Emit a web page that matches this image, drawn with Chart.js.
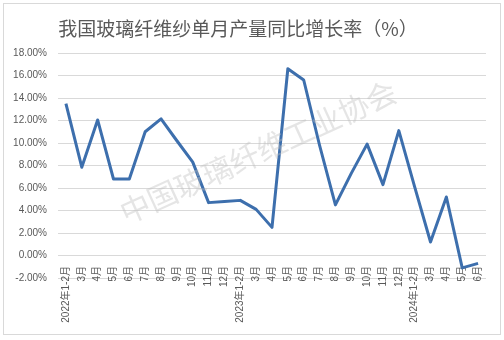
<!DOCTYPE html>
<html>
<head>
    <meta charset="utf-8" />
    <title>我国玻璃纤维纱单月产量同比增长率</title>
    <script src="https://cdn.jsdelivr.net/npm/chart.js@4.4.1/dist/chart.umd.min.js"></script>
    <style>
        html, body { margin: 0; padding: 0; background: #fff; }
        #wrap { width: 504px; height: 340px; }
    </style>
</head>
<body>
    <div id="wrap"><canvas id="grafico"></canvas></div>
    <script>
        // dados
        const titulo = '我国玻璃纤维纱单月产量同比增长率（%）';
        const marcaDagua = '中国玻璃纤维工业协会';
        const meses = [
            '2022年1-2月', '3月', '4月', '5月', '6月', '7月', '8月', '9月', '10月', '11月', '12月',
            '2023年1-2月', '3月', '4月', '5月', '6月', '7月', '8月', '9月', '10月', '11月', '12月',
            '2024年1-2月', '3月', '4月', '5月', '6月'
        ];
        const crescimento = [
            13.5, 7.85, 12.05, 6.8, 6.8, 11.0, 12.15, 10.2, 8.3, 4.7, 4.8,
            4.9, 4.1, 2.5, 16.6, 15.6, 9.8, 4.5, 7.3, 9.9, 6.3, 11.1,
            6.1, 1.2, 5.2, -1.1, -0.7
        ];
        const eixoMin = -2;
        const eixoMax = 18;
        const passo = 2;

        const fonteCJK = '"Liberation Sans", "Noto Sans CJK SC", sans-serif';

        // moldura, título e marca d'água
        const extras = {
            id: 'extras',
            beforeDraw(chart) {
                const ctx = chart.ctx;
                ctx.save();
                ctx.strokeStyle = '#d9d9d9';
                ctx.lineWidth = 1;
                ctx.strokeRect(3.5, 3.5, 497, 331);
                ctx.fillStyle = '#595959';
                ctx.font = '19px "Noto Sans CJK SC"';
                ctx.textAlign = 'center';
                ctx.textBaseline = 'middle';
                ctx.fillText(titulo, 238, 29);
                ctx.restore();
            },
            afterDatasetsDraw(chart) {
                const ctx = chart.ctx;
                ctx.save();
                ctx.translate(258, 152);
                ctx.rotate(-24.5 * Math.PI / 180);
                ctx.font = '30px "Noto Sans CJK SC"';
                ctx.textAlign = 'center';
                ctx.textBaseline = 'middle';
                ctx.fillStyle = 'rgba(190,190,190,0.4)';
                ctx.fillText(marcaDagua, 0, 0);
                ctx.restore();
            }
        };

        new Chart(document.getElementById('grafico'), {
            type: 'line',
            data: {
                labels: meses,
                datasets: [{
                    data: crescimento,
                    borderColor: '#3d6fad',
                    borderWidth: 3,
                    pointRadius: 0,
                    tension: 0,
                    borderJoinStyle: 'round',
                    fill: false
                }]
            },
            options: {
                responsive: true,
                maintainAspectRatio: false,
                animation: false,
                layout: { padding: { top: 53, right: 18, left: 0, bottom: 0 } },
                plugins: {
                    legend: { display: false },
                    tooltip: { enabled: false }
                },
                scales: {
                    x: {
                        offset: true,
                        grid: { display: false, drawTicks: false },
                        border: { display: false },
                        ticks: {
                            autoSkip: false,
                            maxRotation: 90,
                            minRotation: 90,
                            padding: -12,
                            color: '#595959',
                            font: { family: fonteCJK, size: 10 }
                        },
                        afterFit(axis) { axis.height = 62; },
                        // os rótulos sobem um pouco acima do eixo, sem recorte
                        afterUpdate(axis) { axis._computeLabelArea = () => undefined; }
                    },
                    y: {
                        min: eixoMin,
                        max: eixoMax,
                        grid: { color: '#d9d9d9', drawTicks: false },
                        border: { display: false },
                        ticks: {
                            stepSize: passo,
                            padding: 11,
                            color: '#595959',
                            font: { family: fonteCJK, size: 10 },
                            callback: v => v.toFixed(2) + '%'
                        },
                        afterFit(axis) { axis.width = 58; }
                    }
                }
            },
            plugins: [extras]
        });
    </script>
</body>
</html>
